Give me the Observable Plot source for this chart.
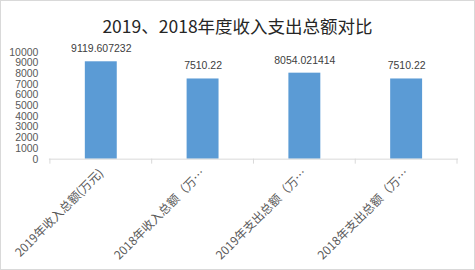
<!DOCTYPE html>
<html>
<head>
<meta charset="utf-8">
<script src="https://cdn.jsdelivr.net/npm/d3@7"></script>
<script src="https://cdn.jsdelivr.net/npm/@observablehq/plot@0.6"></script>
<style>
  body { margin: 0; background: #fff; }
  #wrap { position: relative; width: 475px; height: 270px; box-sizing: border-box; border: 1px solid #d9d9d9; overflow: hidden; }
  #title { position: absolute; left: 0; top: 13px; width: 473px; text-align: center; font: 17.5px "Noto Sans CJK SC", sans-serif; color: #262626; line-height: 24px; }
  #chart { position: absolute; left: -1px; top: -1px; }
</style>
</head>
<body>
<div id="wrap">
  <div id="title">2019、2018年度收入支出总额对比</div>
  <div id="chart"></div>
</div>
<script>
const categories = ["2019年收入总额(万元)", "2018年收入总额（万…", "2019年支出总额（万…", "2018年支出总额（万…"];
const values = [9119.607232, 7510.22, 8054.021414, 7510.22];
const valueLabels = ["9119.607232", "7510.22", "8054.021414", "7510.22"];
const yTicks = [0, 1000, 2000, 3000, 4000, 5000, 6000, 7000, 8000, 9000, 10000];

const data = categories.map((c, i) => ({cat: c, value: values[i], label: valueLabels[i]}));

const plot = Plot.plot({
  width: 475,
  height: 270,
  marginTop: 52,
  marginBottom: 111,
  marginLeft: 49,
  marginRight: 16,
  style: {fontFamily: "'Liberation Sans', 'Noto Sans CJK SC', sans-serif", fontSize: "10px", color: "#595959", background: "transparent"},
  x: {domain: categories, paddingInner: 0.688, paddingOuter: 0.344, label: null},
  y: {domain: [0, 10000], label: null},
  marks: [
    Plot.barY(data, {x: "cat", y: "value", fill: "#5b9bd5"}),
    Plot.ruleY([0], {stroke: "#d9d9d9"}),
    Plot.text(data, {x: "cat", y: "value", text: "label", dy: -13, fill: "#404040", fontSize: 10.5}),
    Plot.axisY({ticks: yTicks, tickSize: 0, tickPadding: 11, tickFormat: d => String(d), fill: "#595959", fontSize: 10.5}),
    Plot.axisX({tickSize: 0, tickPadding: 12, tickRotate: -45, fill: "#595959", fontSize: 12, fontFamily: "'Noto Sans CJK SC', sans-serif"})
  ]
});
document.getElementById("chart").appendChild(plot);

// boundary tick marks between categories, placed from the band scale
const xs = plot.scale("x");
const ys = plot.scale("y");
const svg = d3.select(plot);
const y0 = ys.apply(0);
const edges = categories.map(c => xs.apply(c) - (xs.step - xs.bandwidth) / 2);
edges.push(xs.apply(categories[categories.length - 1]) + xs.bandwidth + (xs.step - xs.bandwidth) / 2);
svg.append("g").selectAll("line").data(edges).join("line")
  .attr("x1", d => d).attr("x2", d => d)
  .attr("y1", y0).attr("y2", y0 + 5)
  .attr("stroke", "#d9d9d9");
</script>
</body>
</html>
